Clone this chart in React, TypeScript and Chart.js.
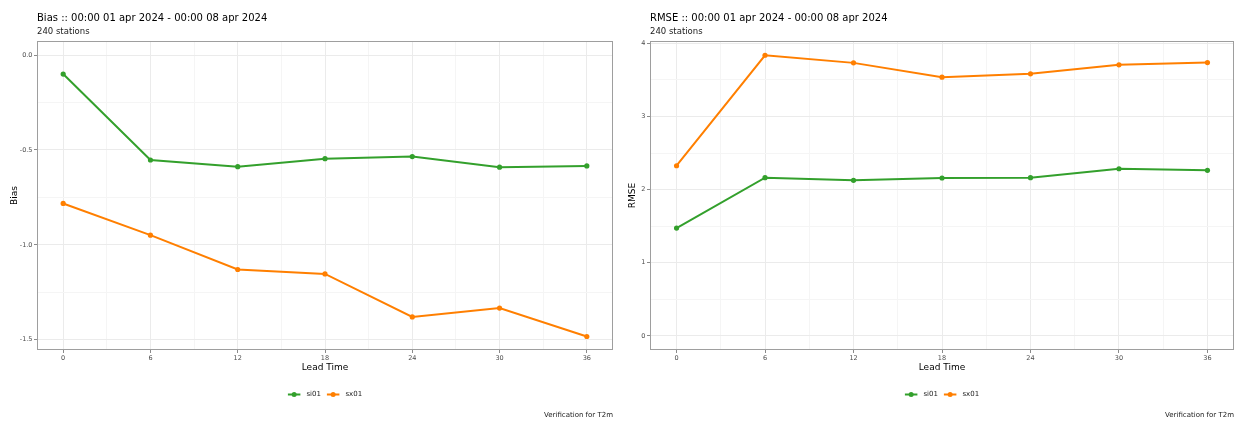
import React, { useEffect, useRef } from "react";
import { Chart, registerables } from "chart.js";

Chart.register(...registerables);

// ---------- data ----------
const leadTimes = [0, 6, 12, 18, 24, 30, 36];
const seriesNames = ["si01", "sx01"];
const seriesColors = ["#33a02c", "#ff7f00"];

const biasSi01 = [-0.1, -0.553, -0.588, -0.546, -0.535, -0.591, -0.584];
const biasSx01 = [-0.782, -0.949, -1.13, -1.153, -1.38, -1.333, -1.483];

const rmseSi01 = [1.475, 2.163, 2.128, 2.159, 2.163, 2.286, 2.264];
const rmseSx01 = [2.327, 3.837, 3.733, 3.537, 3.583, 3.706, 3.737];

const xMajorTicks = [0, 6, 12, 18, 24, 30, 36];
const xMinorTicks = [3, 9, 15, 21, 27, 33];
const biasMajorTicks = [-1.5, -1.0, -0.5, 0.0];
const biasMinorTicks = [-1.25, -0.75, -0.25];
const rmseMajorTicks = [0, 1, 2, 3, 4];
const rmseMinorTicks = [0.5, 1.5, 2.5, 3.5];

const FONT = "DejaVu Sans";

type PanelCfg = {
  title: string;
  subtitle: string;
  caption: string;
  yTitle: string;
  series: number[][];
  yMajor: number[];
  yMinor: number[];
  yMin: number;
  yMax: number;
  yFmt: (v: number) => string;
  yAxisWidth: number;
  yTitlePad: number;
  padRight: number;
};

const panels: PanelCfg[] = [
  {
    title: "Bias :: 00:00 01 apr 2024 - 00:00 08 apr 2024",
    subtitle: "240 stations",
    caption: "Verification for T2m",
    yTitle: "Bias",
    series: [biasSi01, biasSx01],
    yMajor: biasMajorTicks,
    yMinor: biasMinorTicks,
    yMin: -1.554,
    yMax: 0.074,
    yFmt: (v) => v.toFixed(1),
    yAxisWidth: 37,
    yTitlePad: 9.6,
    padRight: 13,
  },
  {
    title: "RMSE :: 00:00 01 apr 2024 - 00:00 08 apr 2024",
    subtitle: "240 stations",
    caption: "Verification for T2m",
    yTitle: "RMSE",
    series: [rmseSi01, rmseSx01],
    yMajor: rmseMajorTicks,
    yMinor: rmseMinorTicks,
    yMin: -0.192,
    yMax: 4.032,
    yFmt: (v) => String(Math.round(v)),
    yAxisWidth: 24,
    yTitlePad: 1.1,
    padRight: 18,
  },
];

const inList = (list: number[], v: number) =>
  list.some((t) => Math.abs(t - v) < 1e-9);

const decorPlugin = {
  id: "decor",
  afterDraw(chart: any, _args: any, opts: any) {
    const { ctx, chartArea: a } = chart;
    ctx.save();
    // panel border
    ctx.strokeStyle = "#9e9e9e";
    ctx.lineWidth = 1;
    ctx.strokeRect(
      Math.round(a.left) + 0.5,
      Math.round(a.top) + 0.5,
      Math.round(a.right - a.left) - 1,
      Math.round(a.bottom - a.top) - 1
    );
    // title + subtitle
    ctx.fillStyle = "#000000";
    ctx.textAlign = "left";
    ctx.textBaseline = "alphabetic";
    ctx.font = `10px "${FONT}"`;
    ctx.fillText(opts.title, a.left, 20.5);
    ctx.font = `8.5px "${FONT}"`;
    ctx.fillStyle = "#1a1a1a";
    ctx.fillText(opts.subtitle, a.left, 34);
    // caption
    ctx.font = `7px "${FONT}"`;
    ctx.textAlign = "right";
    ctx.textBaseline = "middle";
    ctx.fillText(opts.caption, a.right, 415);
    // legend
    const datasets = chart.data.datasets;
    ctx.font = `7px "${FONT}"`;
    const keyW = 12.5;
    const gapKT = 6;
    const gapItems = 6;
    const widths = datasets.map((d: any) => ctx.measureText(d.label).width);
    let total = 0;
    widths.forEach((w: number, i: number) => {
      total += keyW + gapKT + w + (i > 0 ? gapItems : 0);
    });
    const cx = (a.left + a.right) / 2;
    const ly = 394.5;
    let x = cx - total / 2;
    ctx.textAlign = "left";
    datasets.forEach((d: any, i: number) => {
      if (i > 0) x += gapItems;
      ctx.strokeStyle = d.borderColor;
      ctx.lineWidth = 2;
      ctx.beginPath();
      ctx.moveTo(x, ly);
      ctx.lineTo(x + keyW, ly);
      ctx.stroke();
      ctx.fillStyle = d.borderColor;
      ctx.beginPath();
      ctx.arc(x + keyW / 2, ly, 2.5, 0, Math.PI * 2);
      ctx.fill();
      x += keyW + gapKT;
      ctx.fillStyle = "#1a1a1a";
      ctx.fillText(d.label, x, ly);
      x += widths[i];
    });
    ctx.restore();
  },
};

function buildConfig(p: PanelCfg): any {
  const datasets = p.series.map((vals, i) => ({
    label: seriesNames[i],
    data: leadTimes.map((t, j) => ({ x: t, y: vals[j] })),
    borderColor: seriesColors[i],
    backgroundColor: seriesColors[i],
    borderWidth: 2,
    pointRadius: 2.6,
    pointHoverRadius: 2.6,
    pointBorderWidth: 0,
    pointBackgroundColor: seriesColors[i],
    tension: 0,
    order: seriesNames.length - i,
  }));
  const tickFont = { family: FONT, size: 6.5 };
  return {
    type: "line",
    data: { datasets },
    plugins: [decorPlugin],
    options: {
      animation: false,
      responsive: false,
      devicePixelRatio: 1,
      events: [],
      layout: { padding: { left: 0, top: 41, right: p.padRight, bottom: 49 } },
      plugins: {
        legend: { display: false },
        title: { display: false },
        tooltip: { enabled: false },
        decor: { title: p.title, subtitle: p.subtitle, caption: p.caption },
      },
      scales: {
        x: {
          type: "linear",
          position: "bottom",
          min: -1.8,
          max: 37.8,
          afterBuildTicks: (scale: any) => {
            scale.ticks = [...xMajorTicks, ...xMinorTicks]
              .sort((a, b) => a - b)
              .map((v) => ({ value: v }));
          },
          afterFit: (scale: any) => {
            scale.height = 23;
          },
          ticks: {
            autoSkip: false,
            maxRotation: 0,
            padding: 1,
            color: "#4d4d4d",
            font: tickFont,
            callback: (v: number) => (inList(xMajorTicks, v) ? String(v) : ""),
          },
          grid: {
            color: (c: any) =>
              c.tick && inList(xMajorTicks, c.tick.value) ? "#ebebeb" : "#f5f5f5",
            lineWidth: 1,
            drawTicks: true,
            tickLength: 3,
            tickColor: (c: any) =>
              c.tick && inList(xMajorTicks, c.tick.value) ? "#8a8a8a" : "rgba(0,0,0,0)",
          },
          border: { display: false },
          title: {
            display: true,
            text: "Lead Time",
            color: "#000000",
            font: { family: FONT, size: 9 },
            padding: { top: 0, bottom: 0 },
          },
        },
        y: {
          type: "linear",
          position: "left",
          min: p.yMin,
          max: p.yMax,
          afterBuildTicks: (scale: any) => {
            scale.ticks = [...p.yMajor, ...p.yMinor]
              .sort((a, b) => a - b)
              .map((v) => ({ value: v }));
          },
          afterFit: (scale: any) => {
            scale.width = p.yAxisWidth;
          },
          ticks: {
            autoSkip: false,
            padding: 1.5,
            color: "#4d4d4d",
            font: tickFont,
            callback: (v: number) => (inList(p.yMajor, v) ? p.yFmt(v) : ""),
          },
          grid: {
            color: (c: any) =>
              c.tick && inList(p.yMajor, c.tick.value) ? "#ebebeb" : "#f5f5f5",
            lineWidth: 1,
            drawTicks: true,
            tickLength: 3,
            tickColor: (c: any) =>
              c.tick && inList(p.yMajor, c.tick.value) ? "#8a8a8a" : "rgba(0,0,0,0)",
          },
          border: { display: false },
          title: {
            display: true,
            text: p.yTitle,
            color: "#000000",
            font: { family: FONT, size: 9 },
            padding: { top: p.yTitlePad, bottom: 0 },
          },
        },
      },
    },
  };
}

function Panel({ cfg, left }: { cfg: PanelCfg; left: number }) {
  const ref = useRef<HTMLCanvasElement>(null);
  useEffect(() => {
    if (!ref.current) return;
    const chart = new Chart(ref.current, buildConfig(cfg));
    return () => chart.destroy();
  }, [cfg]);
  return (
    <canvas
      ref={ref}
      width={626}
      height={422}
      style={{ position: "absolute", left, top: 0, width: 626, height: 422 }}
    />
  );
}

export default function App() {
  return (
    <div
      style={{
        position: "absolute",
        left: 0,
        top: 0,
        width: 1252,
        height: 422,
        background: "#ffffff",
        overflow: "hidden",
      }}
    >
      <Panel cfg={panels[0]} left={0} />
      <Panel cfg={panels[1]} left={626} />
    </div>
  );
}
